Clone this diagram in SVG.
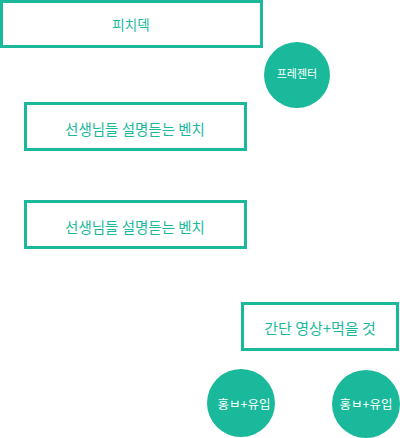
<svg xmlns="http://www.w3.org/2000/svg" width="400" height="438" viewBox="0 0 400 438">
<style>
.box{fill:#fff;stroke:#1ab99b;stroke-width:3}
.circ{fill:#1ab99b}
.t{font-family:"Noto Sans CJK KR","Noto Sans",sans-serif;font-size:14.5px;fill:#1ab99b;text-anchor:middle;dominant-baseline:central}
.w{font-family:"Noto Sans CJK KR","Noto Sans",sans-serif;font-size:11px;fill:#fff;text-anchor:middle;dominant-baseline:central}
</style>
<rect width="400" height="438" fill="#fff"/>
<g id="connectors"></g>
<g id="n1"><rect class="box" x="1.5" y="1.5" width="260" height="45"/><text class="t" x="131" y="24" style="font-size:13.5px">피치덱</text></g>
<g id="n2"><circle class="circ" cx="297" cy="75" r="33"/><text class="w" x="297" y="73">프레젠터</text></g>
<g id="n3"><rect class="box" x="25.5" y="103.5" width="220" height="46"/><text class="t" x="135" y="128">선생님들 설명듣는 벤치</text></g>
<g id="n4"><rect class="box" x="25.5" y="201.5" width="220" height="46"/><text class="t" x="135" y="226">선생님들 설명듣는 벤치</text></g>
<g id="n5"><rect class="box" x="242.5" y="303.5" width="155" height="46"/><text class="t" x="320" y="327" style="font-size:15px">간단 영상+먹을 것</text></g>
<g id="n6"><circle class="circ" cx="241" cy="403" r="34"/><text class="w" x="244" y="403" style="font-size:12.5px">홍ㅂ+유입</text></g>
<g id="n7"><circle class="circ" cx="366" cy="404" r="34"/><text class="w" x="366" y="403" style="font-size:12.5px">홍ㅂ+유입</text></g>
</svg>
